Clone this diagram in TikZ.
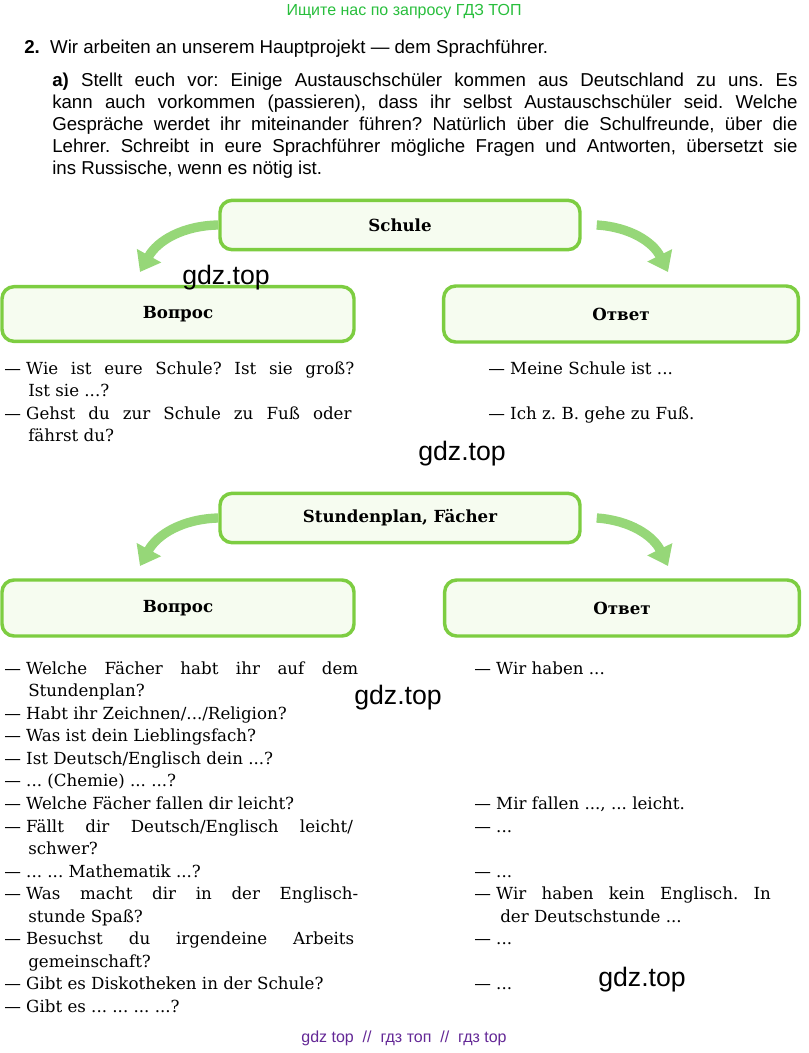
\documentclass[tikz,border=0pt]{standalone}
\usepackage{fontspec}
\setmainfont{DejaVu Serif}
\newfontfamily\hdfont{Liberation Sans}
\usetikzlibrary{arrows.meta}
\frenchspacing
\definecolor{boxgreen}{RGB}{125,205,65}
\definecolor{boxfill}{RGB}{246,252,240}
\definecolor{arrgreen}{RGB}{150,215,120}
\definecolor{topgreen}{RGB}{40,190,60}
\definecolor{botviolet}{RGB}{100,40,150}
\newcommand{\jline}[2]{\makebox[#1pt][s]{#2}}
\tikzset{
  topic/.style={draw=boxgreen,line width=2.6pt,fill=boxfill,rounded corners=9pt,font=\fontsize{12.5}{14}\selectfont\bfseries},
  textline/.style={anchor=base west,inner sep=0pt,font=\fontsize{12.5}{16.5}\selectfont\frenchspacing},
  taskline/.style={anchor=base west,inner sep=0pt,font=\hdfont\fontsize{14}{16.5}\selectfont\frenchspacing},
  wmark/.style={font=\hdfont\fontsize{20}{22}\selectfont},
  bendarrow/.style={arrgreen,line width=7pt,-{Triangle[length=14pt,width=20pt]}}
}
\begin{document}
\begin{tikzpicture}[x=0.75pt,y=-0.75pt]
\useasboundingbox (0,0) rectangle (808,1053);
\node[font=\hdfont\fontsize{12}{14}\selectfont,text=topgreen] (head) at (404,12) {Ищите нас по запросу ГДЗ ТОП};
\node[taskline] (task) at (24,53) {\textbf{2.}\ \ Wir arbeiten an unserem Hauptprojekt — dem Sprachführer.};
\node[taskline] (p1) at (52,86) {\jline{559}{\textbf{a)} Stellt euch vor: Einige Austauschschüler kommen aus Deutschland zu uns. Es}};
\node[taskline] (p2) at (52,108) {\jline{559}{kann auch vorkommen (passieren), dass ihr selbst Austauschschüler seid. Welche}};
\node[taskline] (p3) at (52,130) {\jline{559}{Gespräche werdet ihr miteinander führen? Natürlich über die Schulfreunde, über die}};
\node[taskline] (p4) at (52,152) {\jline{559}{Lehrer. Schreibt in eure Sprachführer mögliche Fragen und Antworten, übersetzt sie}};
\node[taskline] (p5) at (52,174) {ins Russische, wenn es nötig ist.};

% Schule
\node[topic,minimum width=270pt,minimum height=37pt] (schule) at (400,225) {Schule};
\node[topic,minimum width=264pt,minimum height=41pt] (frage1) at (178,314) {Вопрос};
\node[topic,minimum width=266pt,minimum height=42pt] (antw1) at (621,314) {Ответ};
\draw[bendarrow] (schule.west) to[bend right=30] (140,272);
\draw[bendarrow] (schule.east) ++(15,0) to[bend left=30] (668,272);
\node[wmark] (m1) at (226,278) {gdz.top};

\node[textline] at (4,374) {— \jline{246}{Wie ist eure Schule? Ist sie groß?}};
\node[textline] at (28,396) {Ist sie ...?};
\node[textline] at (4,419) {— \jline{244}{Gehst du zur Schule zu Fuß oder}};
\node[textline] at (28,441) {fährst du?};
\node[textline] at (488,374) {— Meine Schule ist ...};
\node[textline] at (488,419) {— Ich z. B. gehe zu Fuß.};
\node[wmark] (m2) at (462,454) {gdz.top};

% Stundenplan
\node[topic,minimum width=270pt,minimum height=37pt] (plan) at (400,518) {Stundenplan, Fächer};
\node[topic,minimum width=264pt,minimum height=42pt] (frage2) at (178,608) {Вопрос};
\node[topic,minimum width=266pt,minimum height=42pt] (antw2) at (622,608) {Ответ};
\draw[bendarrow] (plan.west) to[bend right=30] (140,566);
\draw[bendarrow] (plan.east) ++(15,0) to[bend left=30] (668,566);
\node[wmark] (m3) at (398,698) {gdz.top};

\node[textline] at (4,674) {— \jline{249}{Welche Fächer habt ihr auf dem}};
\node[textline] at (28,696) {Stundenplan?};
\node[textline] at (4,719) {— Habt ihr Zeichnen/.../Religion?};
\node[textline] at (4,741) {— Was ist dein Lieblingsfach?};
\node[textline] at (4,764) {— Ist Deutsch/Englisch dein ...?};
\node[textline] at (4,786) {— ... (Chemie) ... ...?};
\node[textline] at (4,809) {— Welche Fächer fallen dir leicht?};
\node[textline] at (4,832) {— \jline{245}{Fällt dir Deutsch/Englisch leicht/}};
\node[textline] at (28,854) {schwer?};
\node[textline] at (4,877) {— ... ... Mathematik ...?};
\node[textline] at (4,899) {— \jline{249}{Was macht dir in der Englisch-}};
\node[textline] at (28,922) {stunde Spaß?};
\node[textline] at (4,944) {— \jline{246}{Besuchst du irgendeine Arbeits}};
\node[textline] at (28,967) {gemeinschaft?};
\node[textline] at (4,989) {— Gibt es Diskotheken in der Schule?};
\node[textline] at (4,1012) {— Gibt es ... ... ... ...?};

\node[textline] at (474,674) {— Wir haben ...};
\node[textline] at (474,809) {— Mir fallen ..., ... leicht.};
\node[textline] at (474,832) {— ...};
\node[textline] at (474,877) {— ...};
\node[textline] at (474,899) {— \jline{206}{Wir haben kein Englisch. In}};
\node[textline] at (500,922) {der Deutschstunde ...};
\node[textline] at (474,944) {— ...};
\node[textline] at (474,989) {— ...};
\node[wmark] (m4) at (642,980) {gdz.top};

\node[font=\hdfont\fontsize{12}{14}\selectfont,text=botviolet] (foot) at (404,1038) {gdz top \ // \ гдз топ \ // \ гдз top};
\end{tikzpicture}
\end{document}
